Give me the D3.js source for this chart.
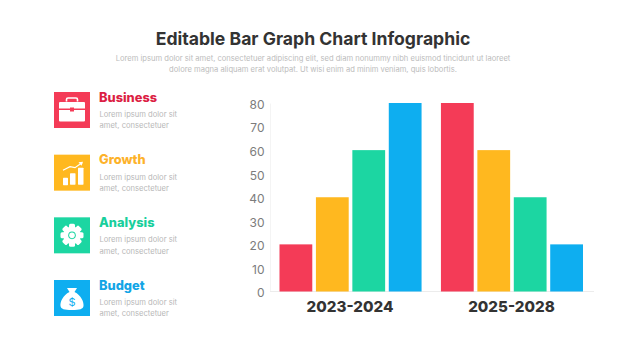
<!DOCTYPE html>
<html><head><meta charset="utf-8">
<script src="https://cdn.jsdelivr.net/npm/d3@7/dist/d3.min.js"></script>
<style>html,body{margin:0;padding:0;background:#fff}svg{display:block}text{font-family:Inter,"Open Sans",sans-serif}</style>
</head><body><svg id="c" width="626" height="352"></svg>
<script>
const periods = ["2023-2024","2025-2028"];
const seriesNames = ["Business","Growth","Analysis","Budget"];
const values2023 = [20,40,60,80];
const values2025 = [80,60,40,20];
const colors = ["#f43b57","#ffb81f","#1cd6a2","#0eaef0"];
const headColors = ["#dc1f45","#fdb22a","#18cf9c","#12a5e6"];
const yTicks = [0,10,20,30,40,50,60,70,80];
const titleText = "Editable Bar Graph Chart Infographic";
const subtitle = ["Lorem ipsum dolor sit amet, consectetuer adipiscing elit, sed diam nonummy nibh euismod tincidunt ut laoreet","dolore magna aliquam erat volutpat. Ut wisi enim ad minim veniam, quis lobortis."];
const bodyLines = ["Lorem ipsum dolor sit","amet, consectetuer"];

const svg = d3.select("#c");
svg.append("text").attr("x",313).attr("y",45).attr("text-anchor","middle").attr("font-size",17.6).attr("font-weight",700).attr("fill","#333333").text(titleText);
subtitle.forEach((t,i)=>svg.append("text").attr("x",313).attr("y",61+i*11.2).attr("text-anchor","middle").attr("font-size",7.6).attr("fill","#bcbcbc").text(t));

const y = d3.scaleLinear().domain([0,80]).range([291.5,103]);
const x0 = d3.scaleBand().domain(periods).range([279.5,583]).paddingInner(0.12);
const x1 = d3.scaleBand().domain(seriesNames).range([0,x0.bandwidth()]).paddingInner(0.1);

const axisY = d3.axisLeft(y).tickValues(yTicks).tickSize(0).tickPadding(5.5);
const gy = svg.append("g").attr("transform","translate(270,0)").call(axisY);
gy.select(".domain").attr("stroke","#f4f4f4");
gy.selectAll("text").attr("font-size",12).attr("fill","#7c7c7c").attr("dy","0.42em").attr("transform","translate(0,0.3)");
svg.append("line").attr("x1",270).attr("x2",594).attr("y1",y(0)).attr("y2",y(0)).attr("stroke","#ececec");

const data = [values2023,values2025];
periods.forEach((p,gi)=>{
  const g = svg.append("g").attr("transform",`translate(${x0(p)},0)`);
  g.selectAll("rect").data(data[gi]).join("rect")
    .attr("x",(d,i)=>x1(seriesNames[i])).attr("width",x1.bandwidth())
    .attr("y",d=>y(d)).attr("height",d=>y(0)-y(d))
    .attr("fill",(d,i)=>colors[i]);
  svg.append("text").attr("x",x0(p)+x0.bandwidth()/2-0.5).attr("y",312).attr("text-anchor","middle")
    .attr("font-size",15.2).attr("font-weight",800).attr("fill","#333333").text(p);
});

const iconTop = d3.scalePoint().domain(seriesNames).range([92,280]);
const icons = {
  Business(g){
    g.append("path").attr("d","M5 9.5 a1 1 0 0 1 1-1 h24 a1 1 0 0 1 1 1 v5.5 h-11 v-1 h-4 v1 h-11z M5 16.5 h11 v1.5 h4 v-1.5 h11 v10.5 a1 1 0 0 1-1 1 h-24 a1 1 0 0 1-1-1z").attr("transform","translate(0,1.5)").attr("fill","#fff");
    g.append("path").attr("d","M12.5 9.5 v-2 a1.5 1.5 0 0 1 1.5-1.5 h8 a1.5 1.5 0 0 1 1.5 1.5 v2").attr("fill","none").attr("stroke","#fff").attr("stroke-width",1.6);
  },
  Growth(g){
    [[9,23,5,7.5],[16,18.5,5.5,11.5],[24,13,5.5,17]].forEach(r=>g.append("rect").attr("x",r[0]).attr("y",r[1]).attr("width",r[2]).attr("height",r[3]).attr("rx",.6).attr("fill","#fff"));
    g.append("path").attr("d","M9 15.5 L16 12 L21 13 L28 8").attr("fill","none").attr("stroke","#fff").attr("stroke-width",1.2);
    g.append("path").attr("d","M24.5 7.5 L29 7 L27.5 11z").attr("fill","#fff");
  },
  Analysis(g){
    d3.range(8).map(i=>i*45).forEach(a=>g.append("rect").attr("x",15).attr("y",6.5).attr("width",6).attr("height",5).attr("rx",1.5).attr("fill","#fff").attr("transform",`rotate(${a} 18 18)`));
    g.append("circle").attr("cx",18).attr("cy",18).attr("r",8.8).attr("fill","#fff");
    g.append("circle").attr("cx",18).attr("cy",18).attr("r",3.8).attr("fill",colors[2]);
    g.append("circle").attr("cx",18).attr("cy",18).attr("r",2.8).attr("fill","#fff");
  },
  Budget(g){
    g.append("path").attr("d","M13 8 L23 8 L20.5 12 C27 15 30 22 29.5 26 C29 29 26 30 18 30 C10 30 7 29 6.5 26 C6 22 9 15 15.5 12z").attr("fill","#fff");
    g.append("text").attr("x",18).attr("y",25.5).attr("text-anchor","middle").attr("font-size",11).attr("fill",colors[3]).text("$");
  }
};
seriesNames.forEach((s,i)=>{
  const t = iconTop(s);
  const g = svg.append("g").attr("transform",`translate(54,${t})`);
  g.append("rect").attr("width",36).attr("height",36).attr("fill",colors[i]);
  icons[s](g);
  svg.append("text").attr("x",99).attr("y",t+9.5).attr("font-size",12.8).attr("font-weight",800).attr("fill",headColors[i]).text(s);
  bodyLines.forEach((l,j)=>svg.append("text").attr("x",99.5).attr("y",t+25+j*11.3).attr("font-size",7.6).attr("fill","#b8b8b8").text(l));
});
</script></body></html>
